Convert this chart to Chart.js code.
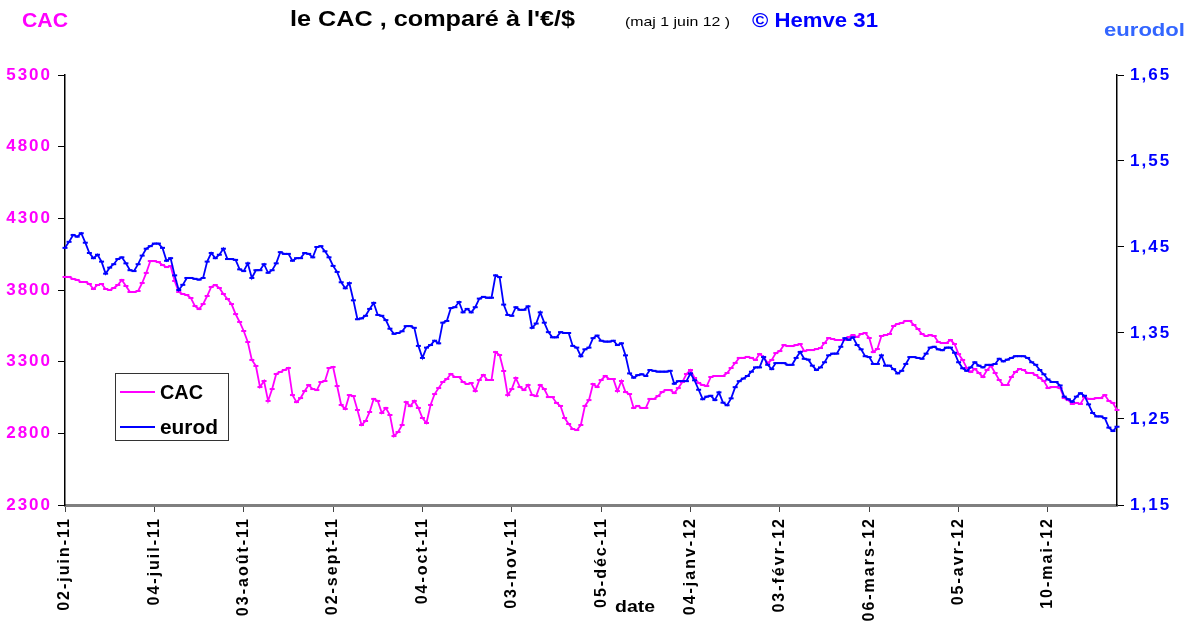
<!DOCTYPE html>
<html lang="fr">
<head>
<meta charset="utf-8">
<title>le CAC, comparé à l'€/$</title>
<script src="https://cdn.jsdelivr.net/npm/chart.js@4.4.1/dist/chart.umd.min.js"></script>
<style>
  html, body { margin: 0; padding: 0; background: #fff; }
  canvas { display: block; }
</style>
</head>
<body>
<canvas id="graf" width="1189" height="623"></canvas>
<script>
// ── DONNÉES ───────────────────────────────────────────────────
// une valeur par séance, du 02-juin-11 au 01-juin-12
const etiquettesDates = [
    '02-juin-11', '04-juil-11', '03-août-11', '02-sept-11', '04-oct-11', '03-nov-11',
    '05-déc-11', '04-janv-12', '03-févr-12', '06-mars-12', '05-avr-12', '10-mai-12',
];
const pasEtiquettes = 22; // une étiquette toutes les 22 séances

const cac = [
    3891, 3891, 3877, 3870, 3856, 3856, 3842, 3807, 3835, 3842, 3807, 3800, 3814, 3835, 3870, 3828,
    3786, 3786, 3793, 3849, 3919, 4002, 4002, 3995, 3974, 3960, 3967, 3863, 3786, 3772, 3765, 3744,
    3688, 3667, 3702, 3758, 3821, 3835, 3814, 3772, 3737, 3702, 3632, 3577,
    3514, 3437, 3312, 3270, 3123, 3165, 3026, 3109, 3214, 3228, 3242, 3256, 3067, 3018, 3046, 3095,
    3137, 3109, 3102, 3158, 3165, 3256, 3263, 3130, 2998, 2970, 3067, 3060, 2963, 2858, 2886, 2949,
    3040, 3026, 2942, 2977, 2928, 2781, 2809, 2858, 3018, 2990, 3026,
    2977, 2907, 2872, 2998, 3074, 3116, 3158, 3179, 3214, 3193, 3193, 3158, 3144, 3151, 3095, 3172,
    3207, 3172, 3172, 3367, 3346, 3235, 3067, 3109, 3186, 3123, 3102, 3137, 3067, 3060, 3137, 3109,
    3053, 3053, 3012, 2991, 2907, 2865, 2830, 2823, 2858, 2991, 3032,
    3144, 3123, 3172, 3200, 3179, 3179, 3095, 3165, 3088, 3074, 2977, 2991, 2977, 2977, 3040, 3040,
    3060, 3088, 3102, 3102, 3081, 3116, 3158, 3214, 3242, 3186, 3151, 3137, 3130, 3193, 3200, 3200,
    3200, 3221, 3256, 3291, 3326, 3326, 3333, 3326, 3312, 3353, 3333,
    3291, 3312, 3360, 3374, 3416, 3409, 3409, 3416, 3423, 3374, 3381, 3381, 3388, 3395, 3430, 3465,
    3458, 3451, 3451, 3451, 3472, 3486, 3472, 3493, 3500, 3465, 3367, 3388, 3479, 3486, 3493, 3549,
    3563, 3570, 3584, 3584, 3556, 3528, 3493, 3479, 3486, 3479, 3437,
    3430, 3430, 3451, 3423, 3353, 3312, 3256, 3228, 3249, 3221, 3193, 3242, 3270, 3221, 3172, 3137,
    3137, 3193, 3228, 3249, 3242, 3221, 3221, 3207, 3186, 3165, 3116, 3123, 3123, 3116, 3046, 3032,
    3005, 3012, 3005, 3053, 3040, 3040, 3046, 3046, 3067, 3026, 3012, 2963,
];

const eurod = [
    1.449, 1.456, 1.464, 1.462, 1.466, 1.455, 1.443, 1.437, 1.441, 1.433, 1.419, 1.426, 1.430, 1.436, 1.438, 1.431,
    1.423, 1.422, 1.430, 1.440, 1.448, 1.451, 1.454, 1.454, 1.449, 1.434, 1.437, 1.417, 1.400, 1.406, 1.414, 1.414,
    1.413, 1.412, 1.414, 1.433, 1.443, 1.437, 1.441, 1.448, 1.436, 1.436, 1.435, 1.424,
    1.422, 1.431, 1.414, 1.423, 1.423, 1.430, 1.420, 1.423, 1.431, 1.444, 1.442, 1.442, 1.434, 1.437, 1.437, 1.443,
    1.442, 1.438, 1.450, 1.451, 1.445, 1.438, 1.428, 1.421, 1.409, 1.402, 1.408, 1.388, 1.366, 1.367, 1.370, 1.378,
    1.385, 1.371, 1.370, 1.365, 1.355, 1.349, 1.350, 1.352, 1.358, 1.358, 1.356,
    1.335, 1.321, 1.333, 1.336, 1.341, 1.338, 1.362, 1.364, 1.379, 1.380, 1.386, 1.374, 1.378, 1.374, 1.380, 1.390,
    1.392, 1.391, 1.391, 1.417, 1.415, 1.383, 1.371, 1.370, 1.380, 1.377, 1.377, 1.381, 1.356, 1.361, 1.374, 1.362,
    1.351, 1.345, 1.345, 1.351, 1.350, 1.350, 1.335, 1.333, 1.323, 1.331, 1.333,
    1.344, 1.347, 1.341, 1.340, 1.340, 1.341, 1.336, 1.338, 1.324, 1.303, 1.298, 1.301, 1.302, 1.300, 1.307, 1.306,
    1.305, 1.305, 1.305, 1.306, 1.291, 1.294, 1.294, 1.294, 1.303, 1.295, 1.284, 1.273, 1.276, 1.277, 1.272, 1.281,
    1.269, 1.266, 1.274, 1.287, 1.294, 1.297, 1.300, 1.305, 1.310, 1.310, 1.322,
    1.313, 1.308, 1.315, 1.315, 1.315, 1.313, 1.313, 1.321, 1.328, 1.320, 1.319, 1.312, 1.307, 1.310, 1.316, 1.324,
    1.326, 1.326, 1.334, 1.344, 1.342, 1.345, 1.336, 1.331, 1.323, 1.322, 1.314, 1.314, 1.324, 1.312, 1.312, 1.308,
    1.303, 1.306, 1.314, 1.322, 1.322, 1.321, 1.320, 1.326, 1.333, 1.334, 1.331,
    1.330, 1.333, 1.333, 1.327, 1.316, 1.309, 1.306, 1.310, 1.316, 1.312, 1.310, 1.313, 1.313, 1.314, 1.320, 1.317,
    1.319, 1.321, 1.323, 1.323, 1.323, 1.321, 1.316, 1.313, 1.307, 1.302, 1.296, 1.293, 1.293, 1.289, 1.276, 1.273,
    1.270, 1.276, 1.280, 1.277, 1.267, 1.257, 1.253, 1.253, 1.251, 1.240, 1.236, 1.241,
];

// ── STYLE ─────────────────────────────────────────────────────
const COULEURS = {
    cac: '#ff00ff',
    eurod: '#0000ff',
    eurodol: '#3366ff',
    axeBas: '#7f7f7f',
};
const POLICE = '"Liberation Sans", Arial, sans-serif';

const categories = cac.map((_, i) =>
    i % pasEtiquettes === 0 ? (etiquettesDates[i / pasEtiquettes] || '') : ''
);

// texte calé sur une largeur donnée (le modèle est un peu étiré en largeur)
function ecrire(ctx, txt, x, y, police, couleur, largeur) {
    ctx.save();
    ctx.letterSpacing = '0px';
    ctx.font = police;
    ctx.fillStyle = couleur;
    ctx.textBaseline = 'middle';
    ctx.textAlign = 'left';
    const w = ctx.measureText(txt).width;
    ctx.translate(x, y);
    if (largeur) ctx.scale(largeur / w, 1);
    ctx.fillText(txt, 0, 0);
    ctx.restore();
}

function dessinerLegende(chart) {
    const ctx = chart.ctx;
    ctx.save();
    ctx.fillStyle = '#fff';
    ctx.fillRect(115, 373, 113, 67);
    ctx.strokeStyle = '#333';
    ctx.lineWidth = 1;
    ctx.strokeRect(115.5, 373.5, 113, 67);
    chart.data.datasets.forEach((ds, k) => {
        const ly = 392 + k * 35;
        ctx.strokeStyle = ds.borderColor;
        ctx.lineWidth = 2;
        ctx.beginPath();
        ctx.moveTo(120, ly);
        ctx.lineTo(155, ly);
        ctx.stroke();
        ecrire(ctx, ds.label, 160, ly + 1, `bold 20px ${POLICE}`, '#000', k === 0 ? 43 : 58);
    });
    ctx.restore();
}

const habillage = {
    id: 'habillage',
    beforeDraw(chart) {
        chart.ctx.letterSpacing = '2px';
    },
    beforeDatasetsDraw(chart) {
        chart.ctx.letterSpacing = '0px';
    },
    afterDraw(chart) {
        const ctx = chart.ctx;
        ecrire(ctx, 'CAC', 22, 21, `bold 21px ${POLICE}`, COULEURS.cac, 46);
        ecrire(ctx, "le CAC , comparé à l'€/$", 290, 20, `bold 22px ${POLICE}`, '#000', 285);
        ecrire(ctx, '(maj 1 juin 12 )', 625, 22, `13px ${POLICE}`, '#000', 105);
        ecrire(ctx, '© Hemve 31', 752, 21, `bold 20px ${POLICE}`, COULEURS.eurod, 126);
        ecrire(ctx, 'eurodol', 1104, 31, `bold 19px ${POLICE}`, COULEURS.eurodol, 81);
        ecrire(ctx, 'date', 615, 607, `bold 17px ${POLICE}`, '#000', 40);
        dessinerLegende(chart);
    },
};

// ── GRAPHIQUE ─────────────────────────────────────────────────
new Chart(document.getElementById('graf'), {
    type: 'line',
    data: {
        labels: categories,
        datasets: [
            {
                label: 'CAC',
                data: cac,
                yAxisID: 'yCac',
                borderColor: COULEURS.cac,
                backgroundColor: COULEURS.cac,
                borderWidth: 1.8,
                pointStyle: 'line',
                pointRadius: 2.5,
                pointBorderWidth: 2,
                pointBorderColor: COULEURS.cac,
                tension: 0,
                order: 1,
            },
            {
                label: 'eurod',
                data: eurod,
                yAxisID: 'yEuro',
                borderColor: COULEURS.eurod,
                backgroundColor: COULEURS.eurod,
                borderWidth: 1.8,
                pointStyle: 'line',
                pointRadius: 2.5,
                pointBorderWidth: 2,
                pointBorderColor: COULEURS.eurod,
                tension: 0,
                order: 0,
            },
        ],
    },
    options: {
        responsive: false,
        animation: false,
        layout: { padding: { top: 75, left: 0, right: 0, bottom: 0 } },
        plugins: {
            legend: { display: false },
            tooltip: { enabled: false },
        },
        scales: {
            x: {
                type: 'category',
                offset: false,
                border: { display: true, color: COULEURS.axeBas, width: 3 },
                grid: { drawOnChartArea: false, drawTicks: true, tickLength: 7, color: '#444', lineWidth: 1 },
                ticks: {
                    autoSkip: false,
                    minRotation: 90,
                    maxRotation: 90,
                    padding: 5,
                    color: '#000',
                    font: { family: POLICE, size: 16, weight: 'bold' },
                    callback: v => categories[v] ? categories[v] : null,
                },
                afterFit: s => { s.height = 118; },
            },
            yCac: {
                position: 'left',
                min: 2300,
                max: 5300,
                border: { display: true, color: '#000', width: 1.5 },
                grid: { drawOnChartArea: false, drawTicks: true, tickLength: 7, color: '#000' },
                ticks: {
                    stepSize: 500,
                    padding: 6,
                    color: COULEURS.cac,
                    font: { family: POLICE, size: 17, weight: 'bold' },
                    callback: v => String(v),
                },
                afterFit: s => { s.width = 65; },
            },
            yEuro: {
                position: 'right',
                min: 1.15,
                max: 1.65,
                border: { display: true, color: '#000', width: 1.5 },
                grid: { drawOnChartArea: false, drawTicks: true, tickLength: 7, color: '#000' },
                ticks: {
                    stepSize: 0.1,
                    padding: 6,
                    color: COULEURS.eurod,
                    font: { family: POLICE, size: 17, weight: 'bold' },
                    callback: v => v.toFixed(2).replace('.', ','),
                },
                afterFit: s => { s.width = 72; },
            },
        },
    },
    plugins: [habillage],
});
</script>
</body>
</html>
